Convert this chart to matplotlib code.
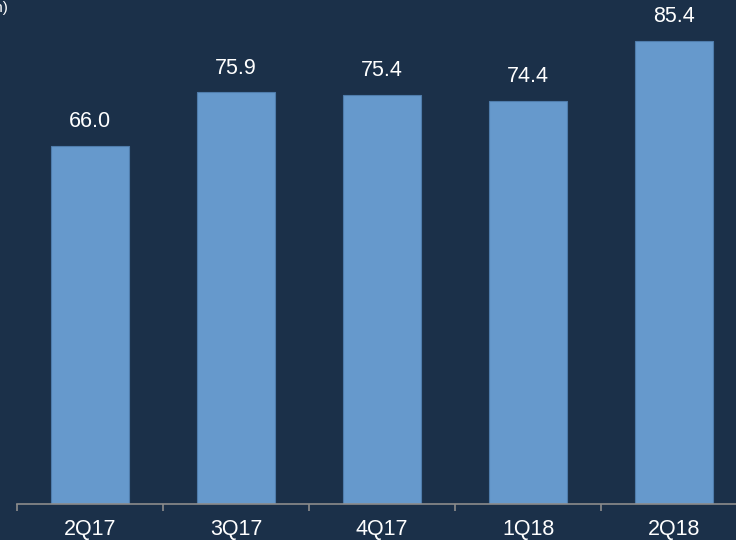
import matplotlib.pyplot as plt
import numpy as np

quarters = ["2Q17", "3Q17", "4Q17", "1Q18", "2Q18"]
values = [66.0, 75.9, 75.4, 74.4, 85.4]

bg = "#1b3049"
bar_col = "#6699cc"

plt.rcParams['font.family'] = ['Liberation Sans', 'DejaVu Sans']

fig = plt.figure(figsize=(7.36, 5.4), dpi=100, facecolor=bg)
# axes runs off the right edge, like the original slide crop
ax = fig.add_axes([17/736, 36/540, 730/736, 504/540])
ax.set_facecolor(bg)

x = np.arange(len(quarters))
bars = ax.bar(x, values, width=0.54, color=bar_col, edgecolor="#4f7cab", linewidth=0.8, zorder=2)

for b, v in zip(bars, values):
    ax.annotate(f"{v:.1f}", (b.get_x() + b.get_width() / 2, v), xytext=(0, 10),
                textcoords="offset points", ha="center", va="bottom",
                color="white", fontsize=15.5)

ax.set_xlim(-0.5, len(quarters) - 0.5)
ax.set_ylim(0, 92.96)

ax.set_xticks(x)
ax.set_xticklabels(quarters, color="white", fontsize=15.5)
ax.tick_params(axis="x", which="major", length=0, pad=11)
ax.set_xticks(np.arange(-0.5, len(quarters)), minor=True)
ax.tick_params(axis="x", which="minor", length=5, width=1.2, color="#8c8c8c", direction="out")
ax.set_yticks([])

for s in ["top", "right", "left"]:
    ax.spines[s].set_visible(False)
ax.spines["bottom"].set_color("#8c8c8c")
ax.spines["bottom"].set_linewidth(1.2)

fig.text(0.011, 0.998, "(R$ billion)", color="white", fontsize=11, ha="right", va="top")

fig.savefig("out.png", dpi=100, facecolor=bg)
